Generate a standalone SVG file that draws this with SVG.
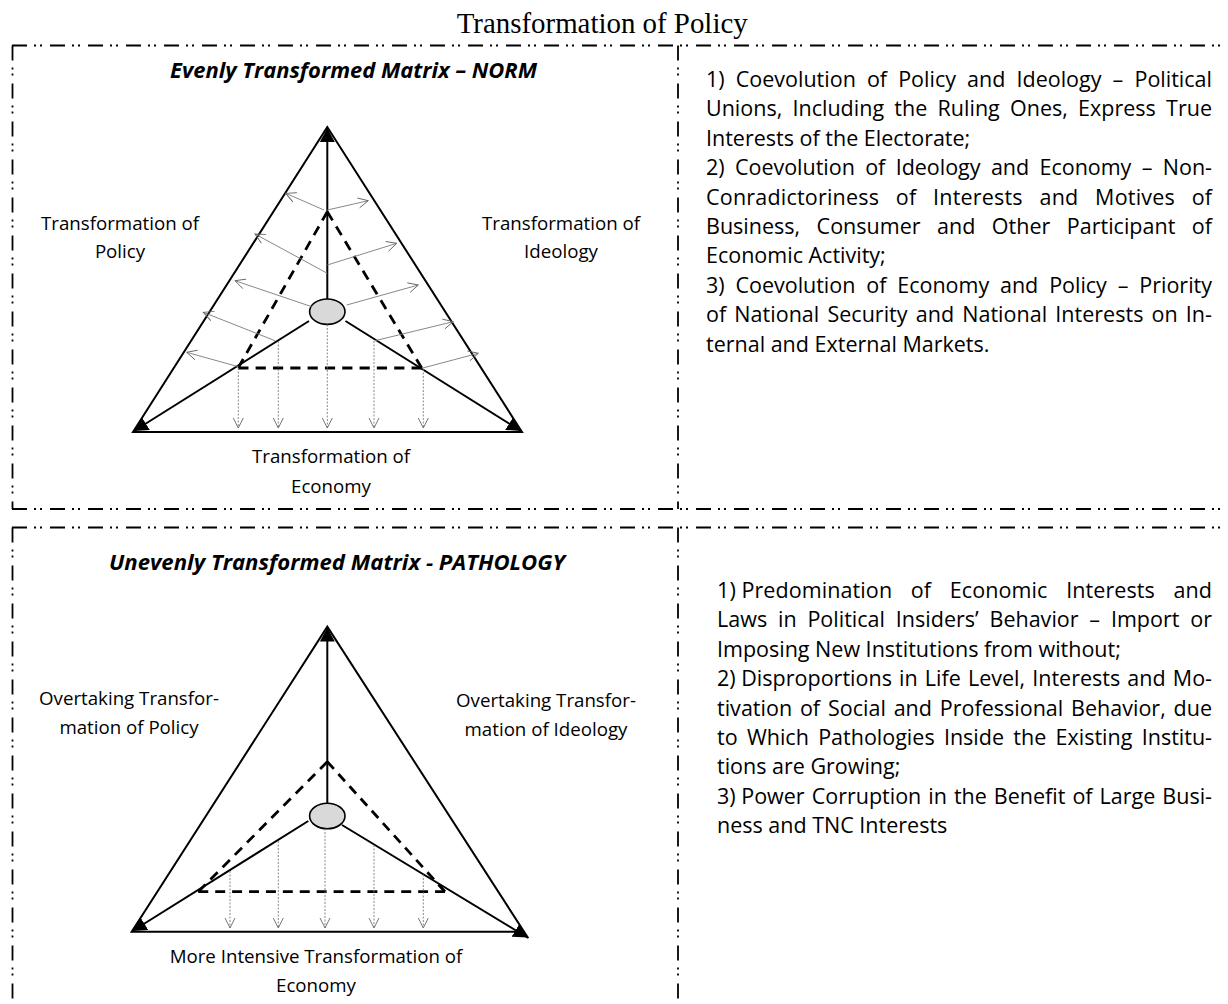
<svg xmlns="http://www.w3.org/2000/svg" width="1228" height="1004" viewBox="0 0 1228 1004">
<defs>
<style>
.frame{fill:none;stroke:#000;stroke-width:1.8;stroke-dasharray:15 7 2 4 2 8}
.outer{fill:none;stroke:#000;stroke-width:2;stroke-linejoin:miter}
.axis{fill:none;stroke:#000;stroke-width:2;marker-end:url(#tri)}
.dash{fill:none;stroke:#000;stroke-width:2.8}
.gray{fill:none;stroke:#7a7a7a;stroke-width:0.9;marker-end:url(#open)}
.grayd{fill:none;stroke:#7a7a7a;stroke-width:0.9;stroke-dasharray:2 1.5;marker-end:url(#open)}
.center{fill:#d9d9d9;stroke:#000;stroke-width:1.6}
.lbl{font-family:'Open Sans','Noto Sans',sans-serif;font-size:18.7px;fill:#000;text-anchor:middle}
.head{font-family:'Open Sans','Noto Sans',sans-serif;font-size:20.5px;font-weight:bold;font-style:italic;fill:#000}
.body{font-family:'Open Sans','Noto Sans',sans-serif;font-size:21.5px;fill:#000}
.title{font-family:'Liberation Serif','Times New Roman',serif;font-size:29px;fill:#000}
</style>
<marker id="tri" viewBox="0 0 14 15" refX="14" refY="7.5" markerWidth="14" markerHeight="15" markerUnits="userSpaceOnUse" orient="auto">
<path d="M0,0 L14,7.5 L0,15 Z" fill="#000"/>
</marker>
<marker id="open" viewBox="0 0 10 10" refX="10" refY="5" markerWidth="10" markerHeight="10" markerUnits="userSpaceOnUse" orient="auto" overflow="visible">
<path d="M0,0 L10,5 L0,10" fill="none" stroke="#666" stroke-width="0.9"/>
</marker>
</defs>
<rect width="1228" height="1004" fill="#fff"/>

<g id="frames">
<path class="frame" d="M12,45.5 H1228"/>
<path class="frame" d="M12.5,45.5 V509"/>
<path class="frame" d="M678,45.5 V509"/>
<path class="frame" d="M12,509 H1228"/>
<path class="frame" d="M12,527.5 H1228"/>
<path class="frame" d="M12.5,527.5 V1004"/>
<path class="frame" d="M678,527.5 V1004"/>
</g>

<g id="title">
<text class="title" x="456.7" y="33" textLength="291" lengthAdjust="spacingAndGlyphs">Transformation of Policy</text>
</g>

<!-- ===== NORM panel ===== -->
<g id="norm-heading">
<text class="head" x="170" y="78" textLength="367" lengthAdjust="spacingAndGlyphs">Evenly Transformed Matrix – NORM</text>
</g>
<g id="norm-triangle">
<path class="outer" d="M327.3,127 L133,432 L522,432 Z"/>
</g>
<g id="norm-dashed-triangle">
<path class="dash" pathLength="100" stroke-dasharray="5.556 3.889" d="M327.3,211.7 L238.3,367.7"/>
<path class="dash" pathLength="100" stroke-dasharray="5.556 3.889" d="M327.3,211.7 L421.7,368"/>
<path class="dash" pathLength="100" stroke-dasharray="5.556 3.889" d="M238.3,368 L421.7,368"/>
</g>
<g id="norm-center">
<ellipse class="center" cx="327.3" cy="311.7" rx="17.7" ry="12.7"/>
</g>
<g id="norm-label-policy">
<text class="lbl" x="120" y="230">Transformation of</text>
<text class="lbl" x="120" y="258">Policy</text>
</g>
<g id="norm-label-ideology">
<text class="lbl" x="561" y="230">Transformation of</text>
<text class="lbl" x="561" y="258">Ideology</text>
</g>
<g id="norm-label-economy">
<text class="lbl" x="331" y="463">Transformation of</text>
<text class="lbl" x="331" y="492.7">Economy</text>
</g>
<g id="norm-text">
<text class="body" x="706" y="87" word-spacing="5.5" textLength="506" lengthAdjust="spacing">1) Coevolution of Policy and Ideology – Political</text>
<text class="body" x="706" y="116.4" word-spacing="4.7" textLength="506" lengthAdjust="spacing">Unions, Including the Ruling Ones, Express True</text>
<text class="body" x="706" y="145.8">Interests of the Electorate;</text>
<text class="body" x="706" y="175.2" word-spacing="4.8" textLength="506" lengthAdjust="spacing">2) Coevolution of Ideology and Economy – Non-</text>
<text class="body" x="706" y="204.6" word-spacing="10.9" textLength="506" lengthAdjust="spacing">Conradictoriness of Interests and Motives of</text>
<text class="body" x="706" y="234" word-spacing="10.9" textLength="506" lengthAdjust="spacing">Business, Consumer and Other Participant of</text>
<text class="body" x="706" y="263.4">Economic Activity;</text>
<text class="body" x="706" y="292.8" word-spacing="5.3" textLength="506" lengthAdjust="spacing">3) Coevolution of Economy and Policy – Priority</text>
<text class="body" x="706" y="322.2" word-spacing="2.5" textLength="506" lengthAdjust="spacing">of National Security and National Interests on In-</text>
<text class="body" x="706" y="351.6">ternal and External Markets.</text>
</g>

<!-- ===== PATHOLOGY panel ===== -->
<g id="pathology-heading">
<text class="head" x="109" y="570" textLength="456" lengthAdjust="spacingAndGlyphs">Unevenly Transformed Matrix - PATHOLOGY</text>
</g>
<g id="pathology-triangle">
<path class="outer" d="M520,931.7 L131.7,931.7 L327.3,626.7 L528.3,938.3"/>
</g>
<g id="pathology-dashed-triangle">
<path class="dash" pathLength="100" stroke-dasharray="5.556 3.889" d="M327.3,761.7 L198.3,891.7"/>
<path class="dash" pathLength="100" stroke-dasharray="5.556 3.889" d="M327.3,761.7 L445,891.7"/>
<path class="dash" pathLength="100" stroke-dasharray="4.032 2.823" d="M198.3,891.7 L445,891.7"/>
</g>
<g id="pathology-center">
<ellipse class="center" cx="327.3" cy="816" rx="17.7" ry="12.7"/>
</g>
<g id="pathology-label-policy">
<text class="lbl" x="129" y="705">Overtaking Transfor-</text>
<text class="lbl" x="129" y="734">mation of Policy</text>
</g>
<g id="pathology-label-ideology">
<text class="lbl" x="546" y="707">Overtaking Transfor-</text>
<text class="lbl" x="546" y="736">mation of Ideology</text>
</g>
<g id="pathology-label-economy">
<text class="lbl" x="316" y="963">More Intensive Transformation of</text>
<text class="lbl" x="316" y="992">Economy</text>
</g>
<g id="pathology-text">
<text class="body" x="717" y="598" word-spacing="13" textLength="495" lengthAdjust="spacing"><tspan word-spacing="0">1) </tspan>Predomination of Economic Interests and</text>
<text class="body" x="717" y="627.4" word-spacing="5.2" textLength="495" lengthAdjust="spacing">Laws in Political Insiders’ Behavior – Import or</text>
<text class="body" x="717" y="656.8">Imposing New Institutions from without;</text>
<text class="body" x="717" y="686.2" word-spacing="1.5" textLength="495" lengthAdjust="spacing"><tspan word-spacing="0">2) </tspan>Disproportions in Life Level, Interests and Mo-</text>
<text class="body" x="717" y="715.6" word-spacing="2.2" textLength="495" lengthAdjust="spacing">tivation of Social and Professional Behavior, due</text>
<text class="body" x="717" y="745" word-spacing="3.7" textLength="495" lengthAdjust="spacing">to Which Pathologies Inside the Existing Institu-</text>
<text class="body" x="717" y="774.4">tions are Growing;</text>
<text class="body" x="717" y="803.8" word-spacing="1.4" textLength="495" lengthAdjust="spacing"><tspan word-spacing="0">3) </tspan>Power Corruption in the Benefit of Large Busi-</text>
<text class="body" x="717" y="833.2">ness and TNC Interests</text>
</g>

<g id="connectors">
<!-- norm: axes from centre to vertices -->
<path class="axis" d="M327.3,299 L327.3,128"/>
<path class="axis" d="M309,321 L134,431"/>
<path class="axis" d="M345.5,321 L521,431"/>
<!-- norm: transformation arrows toward policy side -->
<path class="gray" d="M324,210 L285.7,193.3"/>
<path class="gray" d="M327.3,273.3 L255,234"/>
<path class="gray" d="M311.7,306.7 L235,280.7"/>
<path class="gray" d="M275,340.7 L203.3,312.3"/>
<path class="gray" d="M238.3,366.7 L186.7,352.3"/>
<!-- norm: toward ideology side -->
<path class="gray" d="M327.3,210 L368.3,200.7"/>
<path class="gray" d="M327.3,265 L396.7,243.3"/>
<path class="gray" d="M346.7,305 L418.3,285"/>
<path class="gray" d="M375,340.7 L453.3,321.7"/>
<path class="gray" d="M421.7,368.3 L478.3,353.3"/>
<!-- norm: toward economy side -->
<path class="grayd" d="M238.3,368 L238.3,428"/>
<path class="grayd" d="M278.3,341 L278.3,428"/>
<path class="grayd" d="M327.3,324.5 L327.3,428"/>
<path class="grayd" d="M374,341 L374,428"/>
<path class="grayd" d="M423.3,369 L423.3,428"/>

<!-- pathology: axes -->
<path class="axis" d="M327.3,803.3 L327.3,627.5"/>
<path class="axis" d="M308.3,821 L132.5,931"/>
<path class="axis" d="M342,825 L527.5,937.5"/>
<!-- pathology: toward economy side -->
<path class="grayd" d="M230,871 L230,928"/>
<path class="grayd" d="M278.3,841 L278.3,928"/>
<path class="grayd" d="M325,828.5 L325,928"/>
<path class="grayd" d="M374,845 L374,928"/>
<path class="grayd" d="M423.3,874.5 L423.3,928"/>
</g>
</svg>
